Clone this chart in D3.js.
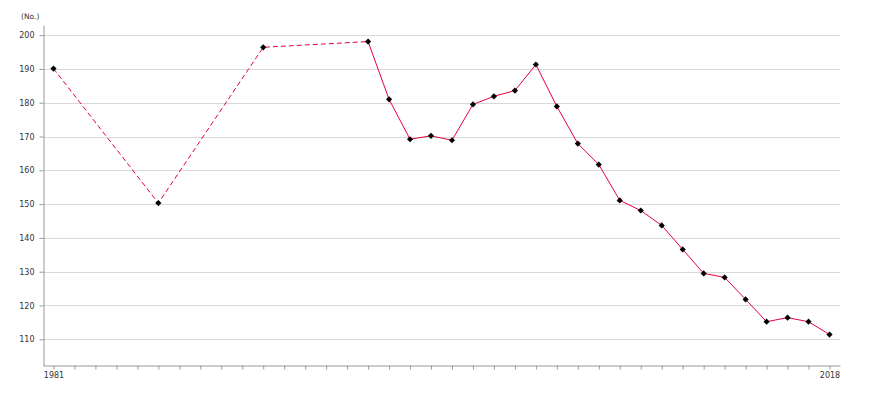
<!DOCTYPE html>
<html><head><meta charset="utf-8">
<script src="https://cdn.jsdelivr.net/npm/d3@7"></script>
<style>body{margin:0;background:#fff}text{font-family:"DejaVu Sans",sans-serif;font-size:8px;fill:#333}</style>
</head><body><svg id="c" width="870" height="400"></svg>
<script>
const years = [1981,1986,1991,1996,1997,1998,1999,2000,2001,2002,2003,2004,2005,2006,2007,2008,2009,2010,2011,2012,2013,2014,2015,2016,2017,2018];
const values = [190.1,150.3,196.4,198.1,181.0,169.2,170.2,168.9,179.5,181.9,183.6,191.3,178.9,167.9,161.7,151.1,148.1,143.7,136.6,129.5,128.3,121.8,115.2,116.4,115.2,111.4];
const yTicks = [110,120,130,140,150,160,170,180,190,200];
const xLabels = [1981,2018];
const unitLabel = "(No.)";

const svg = d3.select("#c");
const x = d3.scaleLinear().domain([1980.5,2018.5]).range([43,840]);
const y = d3.scaleLinear().domain([102.3,203]).range([365.3,25]);

svg.append("g").selectAll("line").data(yTicks).join("line")
  .attr("x1",43).attr("x2",840).attr("y1",d=>Math.round(y(d))+0.5).attr("y2",d=>Math.round(y(d))+0.5)
  .attr("stroke","#d9d9d9").attr("stroke-width",1);

const ya = svg.append("g").attr("transform","translate(43.5,0)")
  .call(d3.axisLeft(y).tickValues(yTicks).tickSize(4).tickSizeOuter(0).tickFormat(d3.format("d")));
ya.select(".domain").attr("stroke","#999");
ya.selectAll(".tick line").attr("stroke","#999");
ya.selectAll(".tick text").attr("x",-9).style("font-size","8px").style("fill","#333");

const allYears = d3.range(1981,2019);
const xa = svg.append("g").attr("transform","translate(0,365.5)")
  .call(d3.axisBottom(x).tickValues(allYears).tickSize(4).tickSizeOuter(0)
    .tickFormat(d=>xLabels.includes(d)?String(d):""));
xa.select(".domain").attr("stroke","#999");
xa.selectAll(".tick line").attr("stroke","#999");
xa.selectAll(".tick text").attr("y",7).style("font-size","8px").style("fill","#333");

svg.append("text").attr("x",21).attr("y",19).text(unitLabel).style("font-size","7.5px");

const pts = years.map((yr,i)=>({yr,v:values[i]}));
const line = d3.line().x(d=>x(d.yr)).y(d=>y(d.v));
const gapIdx = years.indexOf(1996);
svg.append("path").attr("d",line(pts.slice(0,gapIdx+1))).attr("fill","none")
  .attr("stroke","#e8003d").attr("stroke-width",1).attr("stroke-dasharray","5,3");
svg.append("path").attr("d",line(pts.slice(gapIdx))).attr("fill","none")
  .attr("stroke","#e8003d").attr("stroke-width",1);

svg.append("g").selectAll("path").data(pts).join("path")
  .attr("transform",d=>`translate(${x(d.yr)},${y(d.v)}) rotate(45)`)
  .attr("d",d3.symbol(d3.symbolSquare,19)).attr("fill","#000");
</script></body></html>
